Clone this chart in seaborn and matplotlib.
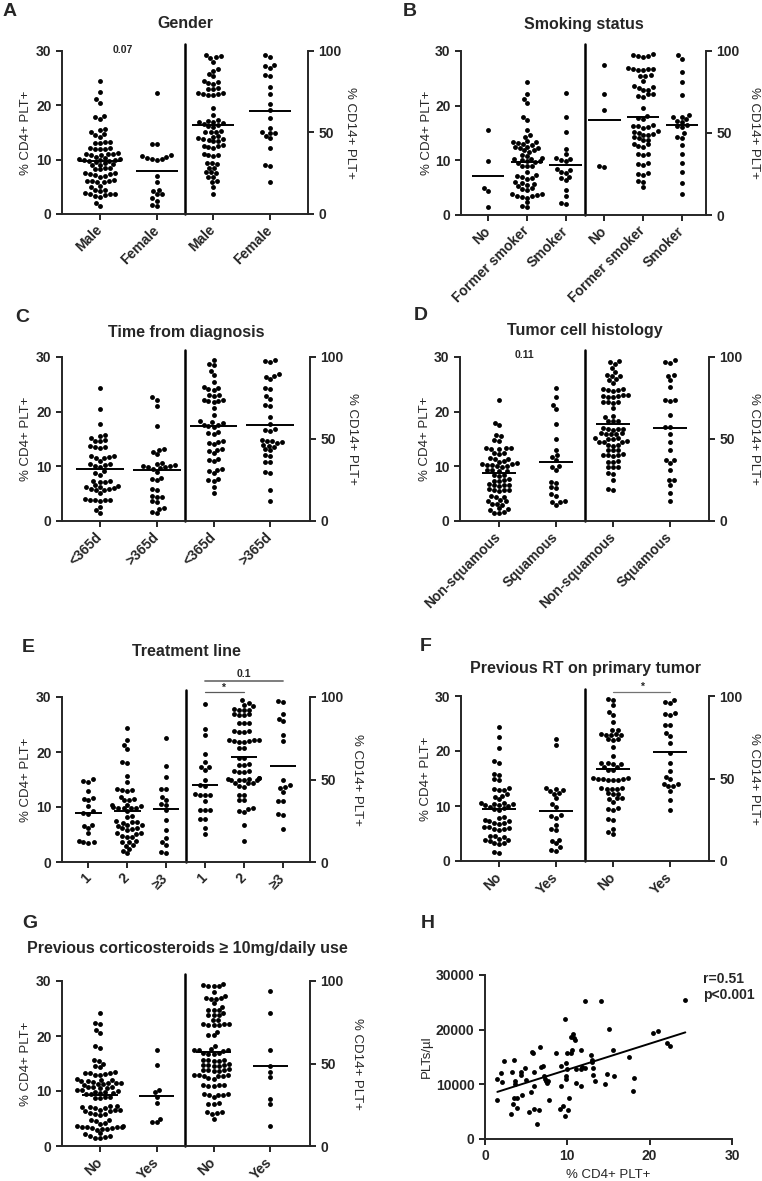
import numpy as np
import pandas as pd
import seaborn as sns
import matplotlib.pyplot as plt
import warnings

warnings.filterwarnings("ignore")

# ---------------- data ----------------
# A  Gender
gender_labels = ["Male", "Female"]
gender_cd4_male = [24.4, 22.4, 21.1, 20.5, 18.0, 17.8, 17.4, 15.6, 15.5, 15.0, 14.7, 14.5, 14.2, 13.2,
                   13.2, 13.1, 13.0, 12.2, 12.1, 12.0, 12.0, 11.9, 11.2, 11.1, 11.0, 11.0, 10.9, 10.8,
                   10.5, 10.3, 10.2, 10.1, 10.0, 10.0, 9.9, 9.8, 9.8, 9.6, 9.3, 9.2, 9.1, 9.0, 8.5, 8.4,
                   8.3, 8.2, 7.5, 7.5, 7.4, 7.3, 7.2, 7.0, 6.9, 6.2, 6.1, 6.0, 6.0, 5.9, 5.8, 5.2, 5.0,
                   4.5, 4.4, 4.3, 3.8, 3.7, 3.7, 3.6, 3.5, 3.3, 3.2, 2.0, 1.5]
gender_cd4_female = [22.2, 12.9, 12.9, 10.8, 10.5, 10.3, 10.1, 10.0, 10.2, 10.6, 7.0, 5.9, 4.4, 4.3,
                     3.6, 3.6, 2.4, 2.9, 1.5, 1.6]
gender_cd14_male = [97.5, 96.8, 96.2, 95.5, 93.5, 88.8, 87.5, 86.0, 84.5, 81.5, 81.0, 80.5, 80.0, 77.0,
                    76.8, 76.5, 74.5, 74.0, 73.8, 73.5, 73.2, 73.0, 65.0, 60.5, 57.5, 57.0, 56.5, 56.2,
                    55.8, 55.5, 54.5, 54.0, 53.5, 50.8, 50.5, 50.2, 50.0, 48.0, 47.5, 46.5, 46.0, 45.8,
                    45.5, 45.0, 44.5, 42.5, 42.0, 41.5, 41.0, 40.5, 37.0, 36.5, 36.0, 35.5, 31.5, 31.0,
                    30.5, 28.5, 28.0, 26.0, 25.5, 25.0, 23.0, 22.5, 20.0, 19.5, 16.7, 12.2]
gender_cd14_female = [97.5, 96.3, 91.5, 90.5, 89.5, 85.5, 84.5, 78.0, 73.7, 67.5, 63.7, 58.7, 52.5,
                      50.0, 49.8, 49.5, 48.0, 46.5, 40.5, 30.3, 29.2, 19.8]

# B  Smoking status
smoke_labels = ["No", "Former smoker", "Smoker"]
smoke_cd4_no = [15.5, 9.8, 4.9, 4.3, 1.4]
smoke_cd4_former = [24.3, 22.1, 21.2, 20.5, 18.0, 17.4, 15.6, 14.7, 14.3, 13.5, 13.3, 13.3, 13.2, 13.0,
                    12.8, 12.5, 12.4, 12.3, 12.2, 11.9, 11.8, 11.6, 11.0, 10.8, 10.5, 10.3, 10.2, 10.0,
                    9.9, 9.9, 9.7, 9.5, 9.0, 9.0, 8.9, 7.8, 7.3, 7.1, 7.0, 6.8, 6.6, 6.1, 5.9, 5.7, 5.5,
                    5.3, 4.9, 4.8, 4.6, 3.9, 3.8, 3.7, 3.5, 3.4, 3.3, 3.2, 2.3, 1.7, 1.4]
smoke_cd4_smoker = [22.4, 18.0, 15.1, 12.1, 11.1, 10.5, 10.3, 10.0, 9.8, 8.5, 8.2, 7.9, 7.7, 7.0, 6.8,
                    6.4, 4.5, 3.5, 2.2, 2.0]
smoke_cd14_no = [91.3, 74.0, 63.9, 29.8, 29.4]
smoke_cd14_former = [98.2, 97.5, 97.0, 96.5, 96.8, 89.5, 89.0, 88.8, 88.5, 88.2, 89.2, 85.5, 85.0, 84.5,
                     82.0, 78.5, 78.0, 77.5, 76.5, 76.0, 74.0, 73.5, 72.5, 72.0, 65.0, 60.5, 59.0, 58.5,
                     55.0, 54.5, 54.0, 53.5, 53.0, 51.0, 50.5, 50.0, 49.5, 49.0, 48.5, 47.5, 47.0, 46.0,
                     45.5, 43.5, 43.0, 42.0, 41.5, 37.5, 37.0, 36.5, 31.5, 31.0, 30.5, 25.8, 25.0, 24.5,
                     20.5, 20.0, 16.8]
smoke_cd14_smoker = [97.4, 95.3, 87.2, 81.1, 73.0, 61.0, 60.0, 59.5, 58.5, 57.5, 57.0, 55.0, 54.5, 53.8,
                     49.7, 47.5, 47.0, 42.6, 37.5, 31.8, 26.4, 19.7, 12.6]

# C  Time from diagnosis
time_labels = ["<365d", ">365d"]
time_cd4_early = [24.3, 20.4, 17.8, 15.7, 15.5, 15.2, 14.8, 14.7, 14.6, 13.8, 13.6, 13.5, 13.4, 11.9,
                  11.8, 11.7, 11.6, 11.5, 11.0, 10.5, 10.4, 10.3, 10.0, 9.9, 9.1, 8.8, 8.5, 7.4, 7.3,
                  7.2, 7.1, 6.5, 6.4, 6.3, 6.2, 6.0, 5.9, 5.8, 5.7, 5.6, 5.1, 4.0, 3.9, 3.9, 3.8, 3.8,
                  3.7, 2.5, 2.0, 1.5]
time_cd4_late = [22.6, 22.2, 21.0, 17.3, 13.2, 13.0, 12.7, 12.2, 10.6, 10.4, 10.2, 10.1, 10.0, 9.9, 9.8,
                 9.7, 9.6, 9.0, 7.9, 7.7, 7.5, 5.8, 5.6, 4.6, 4.4, 4.3, 3.6, 3.4, 2.4, 2.2, 1.7, 1.4]
time_cd14_early = [98.0, 96.0, 95.0, 91.3, 88.8, 84.8, 81.5, 81.0, 80.5, 80.0, 77.0, 76.7, 76.2, 74.0,
                   73.6, 73.4, 73.0, 72.5, 69.2, 64.5, 60.8, 60.4, 60.0, 58.8, 58.4, 58.0, 57.6, 54.4,
                   53.5, 53.0, 48.6, 48.2, 47.8, 47.2, 43.6, 43.2, 42.8, 41.2, 37.5, 37.1, 36.5, 31.5,
                   31.0, 30.5, 29.0, 25.5, 25.0, 24.5, 20.9, 16.8]
time_cd14_late = [98.0, 97.5, 97.0, 89.5, 88.5, 88.0, 86.8, 81.0, 80.5, 76.0, 74.6, 70.8, 70.4, 63.5,
                  59.4, 55.8, 55.4, 55.0, 49.5, 49.0, 48.5, 48.0, 47.5, 46.5, 46.0, 45.0, 44.0, 43.0,
                  40.2, 39.8, 36.2, 35.8, 30.0, 29.0, 18.9, 12.4]

# D  Tumor cell histology
hist_labels = ["Non-squamous", "Squamous"]
hist_cd4_nonsq = [22.1, 18.0, 17.5, 15.7, 15.5, 14.9, 14.7, 13.4, 13.3, 13.3, 13.2, 13.1, 12.5, 12.4,
                  12.3, 11.5, 11.4, 11.3, 10.9, 10.8, 10.6, 10.5, 10.4, 10.3, 10.2, 10.1, 10.0, 9.9, 9.4,
                  9.3, 9.2, 9.1, 8.5, 8.4, 8.3, 7.6, 7.5, 7.4, 7.3, 6.7, 6.6, 6.6, 6.5, 6.4, 5.8, 5.7,
                  5.7, 5.6, 5.5, 4.5, 4.4, 4.3, 3.8, 3.7, 3.6, 3.1, 3.1, 3.0, 2.3, 2.2, 2.1, 1.6, 1.5,
                  1.4]
hist_cd4_sq = [24.3, 22.6, 21.2, 20.5, 17.8, 15.0, 13.0, 12.0, 11.7, 11.1, 10.0, 9.8, 9.3, 7.2, 7.0,
               6.2, 6.0, 4.9, 4.5, 3.7, 3.5, 3.4, 2.9]
hist_cd14_nonsq = [97.6, 97.0, 96.0, 93.5, 91.0, 88.8, 88.5, 88.2, 86.4, 86.0, 84.0, 80.5, 80.2, 80.0,
                   79.8, 79.5, 77.0, 76.7, 76.4, 76.0, 75.8, 75.5, 72.8, 72.6, 72.4, 72.2, 68.6, 63.8,
                   63.2, 61.2, 61.0, 60.8, 56.5, 56.3, 56.1, 55.9, 55.7, 53.6, 53.4, 53.2, 53.0, 52.8,
                   50.6, 50.4, 50.2, 50.0, 48.6, 48.4, 48.2, 48.0, 46.4, 46.2, 46.0, 43.4, 43.2, 43.0,
                   40.6, 40.4, 40.2, 40.0, 39.8, 36.3, 36.1, 35.9, 33.2, 33.0, 32.8, 29.2, 28.8, 25.0,
                   19.5, 19.1]
hist_cd14_sq = [98.0, 97.0, 96.6, 89.0, 88.6, 85.8, 81.9, 73.8, 73.6, 73.4, 64.5, 57.6, 57.2, 53.3,
                48.3, 43.2, 37.3, 36.9, 35.1, 31.0, 25.2, 24.8, 21.9, 16.8, 12.4]

# E  Treatment line
line_labels = ["1", "2", "\u22653"]
line_cd4_1 = [15.1, 14.8, 14.6, 12.9, 11.7, 11.5, 11.2, 10.1, 9.3, 8.9, 8.8, 6.8, 6.6, 6.1, 5.2, 3.9,
              3.6, 3.6, 3.5]
line_cd4_2 = [24.3, 22.2, 21.2, 20.5, 18.1, 18.0, 15.7, 14.6, 13.2, 13.1, 13.1, 13.0, 11.9, 11.4, 11.3,
              11.2, 10.4, 10.3, 10.2, 10.0, 9.9, 9.9, 9.8, 9.8, 9.2, 8.4, 8.2, 7.4, 7.3, 7.2, 7.1, 6.8,
              6.7, 6.6, 6.2, 6.1, 6.0, 5.9, 5.3, 5.2, 5.1, 4.7, 4.6, 4.5, 3.8, 3.7, 3.6, 3.1, 3.0, 2.4,
              2.0, 1.6]
line_cd4_3 = [22.5, 17.5, 15.5, 13.3, 13.2, 11.9, 11.3, 10.6, 10.4, 9.5, 7.6, 5.8, 4.3, 3.7, 3.1, 1.9,
              1.6]
line_cd14_1 = [96.0, 80.8, 77.1, 65.4, 60.9, 57.7, 57.3, 55.9, 49.8, 46.6, 46.2, 41.0, 40.8, 40.6, 40.4,
               37.0, 31.8, 31.6, 31.4, 26.3, 25.9, 20.4, 17.0]
line_cd14_2 = [98.0, 96.4, 95.3, 94.3, 92.6, 92.4, 92.2, 92.0, 89.6, 89.4, 89.2, 89.0, 84.4, 84.2, 84.0,
               79.4, 79.2, 79.0, 78.8, 74.2, 74.0, 73.8, 73.4, 73.2, 73.0, 72.8, 69.2, 68.8, 63.2, 62.8,
               59.2, 59.0, 58.8, 55.2, 55.0, 54.8, 54.6, 51.0, 50.8, 50.6, 50.4, 50.0, 49.8, 49.6, 49.4,
               48.0, 47.8, 47.6, 45.8, 45.6, 40.8, 40.6, 37.8, 37.6, 32.8, 32.4, 30.8, 30.4, 22.5, 12.8]
line_cd14_3 = [97.6, 97.2, 89.7, 86.8, 85.2, 77.1, 73.5, 49.8, 46.8, 45.7, 45.1, 42.7, 37.2, 36.8, 29.0,
               28.6, 20.0]

# F  Previous RT on primary tumor
rt_labels = ["No", "Yes"]
rt_cd4_no = [24.4, 22.5, 20.5, 18.1, 17.9, 15.9, 15.7, 14.9, 14.7, 13.3, 13.1, 13.0, 12.9, 12.2, 11.9,
             11.7, 11.2, 10.6, 10.5, 10.4, 10.3, 10.2, 10.1, 10.0, 9.8, 9.6, 9.4, 9.2, 8.0, 7.8, 7.5,
             7.3, 7.2, 7.0, 6.9, 6.8, 6.2, 6.1, 6.0, 5.9, 5.8, 5.7, 4.6, 4.5, 4.4, 4.0, 3.9, 3.8, 3.7,
             3.3, 3.2, 3.1, 1.6, 1.5]
rt_cd4_yes = [22.1, 21.1, 13.2, 13.1, 13.0, 12.8, 12.4, 12.2, 11.4, 10.4, 9.8, 8.3, 8.1, 7.9, 6.5, 5.8,
              5.6, 3.9, 3.7, 3.2, 2.5, 2.0, 1.9]
rt_cd14_no = [98.2, 97.6, 94.5, 90.5, 88.5, 84.4, 79.6, 79.2, 77.0, 76.8, 76.5, 76.3, 76.1, 74.0, 73.7,
              73.4, 69.2, 63.6, 59.4, 59.2, 59.0, 58.8, 57.2, 57.0, 55.2, 55.0, 50.2, 50.1, 50.0, 49.9,
              49.8, 49.2, 49.0, 48.8, 44.2, 44.0, 43.9, 43.8, 43.6, 41.0, 40.9, 40.8, 38.0, 37.9, 37.8,
              35.8, 31.9, 31.7, 31.2, 25.7, 25.0, 19.6, 17.6, 16.6]
rt_cd14_yes = [97.6, 96.2, 95.8, 89.8, 89.2, 88.5, 82.6, 82.2, 77.3, 75.7, 71.3, 65.2, 59.1, 54.7, 51.0,
               49.4, 46.8, 46.4, 45.4, 45.2, 42.5, 36.8, 31.2]

# G  Previous corticosteroids
cort_labels = ["No", "Yes"]
cort_cd4_no = [24.2, 22.4, 22.2, 21.1, 20.5, 18.1, 17.9, 15.7, 15.5, 15.0, 14.5, 14.3, 13.4, 13.3, 13.2,
               13.2, 13.1, 13.0, 12.9, 12.1, 12.0, 12.0, 11.9, 11.8, 11.6, 11.5, 11.4, 11.4, 11.3, 11.2,
               11.1, 10.8, 10.7, 10.7, 10.6, 10.5, 10.2, 10.1, 10.0, 9.9, 9.8, 9.7, 9.6, 9.5, 9.4, 9.0,
               8.9, 8.8, 8.7, 7.3, 7.2, 7.1, 7.1, 7.0, 6.9, 6.6, 6.5, 6.5, 6.4, 6.3, 6.0, 5.9, 5.8,
               5.7, 4.8, 4.7, 4.6, 4.2, 4.0, 3.7, 3.6, 3.5, 3.5, 3.4, 3.4, 3.3, 3.2, 3.1, 3.1, 3.0,
               2.3, 2.1, 1.9, 1.8, 1.7, 1.5, 1.4]
cort_cd4_yes = [17.4, 14.7, 10.1, 9.8, 9.0, 7.8, 5.0, 4.4, 4.3]
cort_cd14_no = [98.2, 97.2, 97.0, 96.8, 97.4, 93.5, 91.1, 89.7, 89.5, 89.3, 88.9, 86.4, 84.4, 82.6, 82.4,
                82.2, 80.4, 79.6, 79.4, 79.2, 76.5, 76.1, 74.1, 74.0, 73.8, 73.6, 73.4, 73.2, 69.2, 67.4,
                67.0, 60.7, 58.5, 58.3, 58.1, 57.9, 57.7, 56.4, 56.2, 56.0, 55.8, 52.4, 52.2, 52.0, 51.8,
                51.6, 49.5, 49.3, 49.1, 48.9, 48.7, 48.5, 46.5, 46.3, 46.1, 45.9, 45.7, 45.5, 43.3, 43.1,
                42.9, 42.7, 42.5, 42.3, 41.0, 40.8, 37.2, 37.0, 36.8, 36.6, 36.4, 31.6, 31.4, 31.2, 31.0,
                30.8, 29.8, 25.9, 25.7, 25.5, 20.8, 20.4, 19.8, 19.4, 16.6]
cort_cd14_yes = [93.9, 80.4, 58.1, 48.6, 44.9, 41.9, 28.7, 25.7, 12.1]

# H  correlation CD4+ PLT+ vs platelets
corr_cd4 = [1.50, 1.50, 1.90, 2.06, 2.31, 3.28, 3.52, 3.60, 3.60, 3.12, 3.40, 3.52, 3.93, 3.89, 4.33,
            4.41, 4.49, 4.90, 5.02, 5.34, 5.55, 5.75, 5.83, 5.95, 5.95, 5.95, 6.28, 6.52, 6.64, 6.76,
            7.04, 7.17, 7.25, 7.37, 7.57, 7.65, 7.77, 8.66, 9.07, 9.27, 9.27, 9.47, 9.68, 9.68, 9.80,
            9.80, 9.88, 10.0, 10.0, 10.08, 10.16, 10.40, 10.40, 10.61, 10.69, 10.81, 10.89, 11.01,
            11.09, 11.62, 11.82, 11.62, 12.19, 12.11, 11.70, 13.0, 13.0, 13.16, 13.16, 13.32, 12.91,
            14.13, 14.53, 14.82, 15.06, 15.55, 15.67, 17.45, 18.02, 18.10, 20.40, 21.01, 22.15, 22.43,
            24.33]
corr_plt = [11016, 7060, 12050, 10350, 14180, 12230, 14360, 10530, 10100, 4500, 6450, 7490, 7490, 5660,
            12170, 11690, 8100, 12960, 10830, 4870, 8520, 16000, 15700, 12170, 9620, 5540, 2800, 5360,
            16800, 13090, 13270, 11560, 11020, 10650, 10230, 10530, 7180, 15820, 5540, 9620, 13270, 5960,
            21910, 4260, 13880, 10960, 11440, 15820, 12780, 5230, 7490, 15820, 18750, 16310, 19230, 18440,
            18140, 10230, 12780, 12780, 13090, 9620, 25320, 12960, 16310, 14490, 14000, 12960, 11620,
            10590, 15400, 25320, 10040, 11870, 20150, 16310, 11440, 14970, 8760, 11140, 19480, 19840,
            17530, 17100, 25440]

# ---------------- layout ----------------
sns.set_style("ticks")
plt.rcParams['font.family'] = ['Liberation Sans', 'DejaVu Sans']
plt.rcParams['font.weight'] = 'bold'
plt.rcParams['axes.linewidth'] = 1.4

W, H = 762, 1181
DOT = 3.5
fig = plt.figure(figsize=(W / 100, H / 100), dpi=100)


def box(l, t, r, b):
    return [l / W, 1 - b / H, (r - l) / W, (b - t) / H]


def long_df(groups, offset):
    return pd.DataFrame({
        'pos': np.repeat(np.arange(len(groups)) + offset, [len(g) for g in groups]).astype(float),
        'val': np.concatenate([np.asarray(g, float) for g in groups]),
    })


def style_ticks(ax):
    ax.tick_params(direction='out', length=4, width=1.2, labelsize=10, color='k')


def dot_panel(rect, labels, cd4_groups, cd14_groups, xlim, half, lx, rx):
    n = len(labels)
    ax = fig.add_axes(rect)
    ax2 = ax.twinx()
    left = long_df(cd4_groups, 0)
    right = long_df(cd14_groups, n)
    sns.swarmplot(data=left, x='pos', y='val', native_scale=True, orient='v',
                  color='k', size=DOT, ax=ax)
    sns.swarmplot(data=right, x='pos', y='val', native_scale=True, orient='v',
                  color='k', size=DOT, ax=ax2)
    # mean lines
    for a, df in ((ax, left), (ax2, right)):
        means = df.groupby('pos')['val'].mean()
        a.hlines(means.values, means.index - half, means.index + half, color='k', lw=1.4, zorder=5)
    ax.set_ylim(0, 30)
    ax.set_yticks([0, 10, 20, 30])
    ax2.set_ylim(0, 100)
    ax2.set_yticks([0, 50, 100])
    ax.set_xticks(np.arange(2 * n))
    ax.set_xticklabels(labels + labels, rotation=45, ha='right', va='center',
                       rotation_mode='anchor')
    ax.set_xlim(*xlim)
    ax.set_xlabel('')
    ax2.set_xlabel('')
    for s in ('top', 'right'):
        ax.spines[s].set_visible(False)
    for s in ('top', 'left', 'bottom'):
        ax2.spines[s].set_visible(False)
    style_ticks(ax)
    style_ticks(ax2)
    ax.tick_params(axis='x', pad=6)
    ax.axvline(n - 0.5, 0, 1.04, color='k', lw=1.8, clip_on=False)
    ax.set_ylabel('% CD4+ PLT+', fontweight='normal', fontsize=9.5, va='center', ha='center')
    ax.yaxis.set_label_coords(lx, 0.5)
    ax2.set_ylabel('% CD14+ PLT+', fontweight='normal', fontsize=9.5, rotation=270,
                   va='center', ha='center')
    ax2.yaxis.set_label_coords(rx, 0.5)
    return ax, ax2


def title(x, y, s):
    fig.text(x / W, 1 - y / H, s, ha='center', va='center', fontsize=11.5, fontweight='bold')


def letter(x, y, s):
    fig.text(x / W, 1 - y / H, s, ha='left', va='center', fontsize=14, fontweight='bold')


# A
axA, axA2 = dot_panel(box(62, 51, 308, 214), gender_labels,
                      [gender_cd4_male, gender_cd4_female],
                      [gender_cd14_male, gender_cd14_female],
                      (-0.67, 3.67), 0.37, -0.145, 1.17)
axA.text(0.4, 30.2, '0.07', ha='center', va='center', fontsize=7.5)
title(185, 24, 'Gender')
letter(3, 12, 'A')

# B
axB, axB2 = dot_panel(box(461, 51, 706, 215), smoke_labels,
                      [smoke_cd4_no, smoke_cd4_former, smoke_cd4_smoker],
                      [smoke_cd14_no, smoke_cd14_former, smoke_cd14_smoker],
                      (-0.70, 5.62), 0.42, -0.14, 1.196)
title(584, 24, 'Smoking status')
letter(403, 12, 'B')

# C
axC, axC2 = dot_panel(box(62, 357, 310, 521), time_labels,
                      [time_cd4_early, time_cd4_late],
                      [time_cd14_early, time_cd14_late],
                      (-0.67, 3.70), 0.42, -0.145, 1.17)
title(186, 332, 'Time from diagnosis')
letter(15, 317, 'C')

# D
axD, axD2 = dot_panel(box(460, 357, 709, 521), hist_labels,
                      [hist_cd4_nonsq, hist_cd4_sq],
                      [hist_cd14_nonsq, hist_cd14_sq],
                      (-0.68, 3.68), 0.3, -0.14, 1.18)
axD.text(0.44, 30.3, '0.11', ha='center', va='center', fontsize=7.5)
title(585, 330, 'Tumor cell histology')
letter(414, 316, 'D')

# E
axE, axE2 = dot_panel(box(62, 697, 310, 862), line_labels,
                      [line_cd4_1, line_cd4_2, line_cd4_3],
                      [line_cd14_1, line_cd14_2, line_cd14_3],
                      (-0.68, 5.70), 0.34, -0.145, 1.19)
axE2.plot([3, 4], [103, 103], color='0.35', lw=0.9, clip_on=False)
axE2.text(3.45, 105.5, '*', ha='center', va='center', fontsize=7.5)
axE2.plot([3, 5], [109.7, 109.7], color='0.45', lw=1.3, clip_on=False)
axE2.text(4.0, 114, '0.1', ha='center', va='center', fontsize=7.5)
title(186, 652, 'Treatment line')
letter(22, 648, 'E')

# F
axF, axF2 = dot_panel(box(461, 696, 709, 861), rt_labels,
                      [rt_cd4_no, rt_cd4_yes],
                      [rt_cd14_no, rt_cd14_yes],
                      (-0.67, 3.68), 0.3, -0.14, 1.18)
axF2.plot([2, 3], [102.6, 102.6], color='0.45', lw=0.9, clip_on=False)
axF2.text(2.5, 105.5, '*', ha='center', va='center', fontsize=7.5)
title(585, 668, 'Previous RT on primary tumor')
letter(420, 647, 'F')

# G
axG, axG2 = dot_panel(box(62, 981, 310, 1146), cort_labels,
                      [cort_cd4_no, cort_cd4_yes],
                      [cort_cd14_no, cort_cd14_yes],
                      (-0.67, 3.70), 0.31, -0.145, 1.19)
title(187, 948, 'Previous corticosteroids \u2265 10mg/daily use')
letter(22, 923, 'G')

# H
axH = fig.add_axes(box(485, 975, 732, 1139))
sns.regplot(x=np.array(corr_cd4), y=np.array(corr_plt), ci=None, color='k', ax=axH,
            scatter_kws={'s': DOT ** 2, 'linewidths': 0, 'alpha': 1},
            line_kws={'lw': 1.4})
axH.set_xlim(0, 30)
axH.set_ylim(0, 30000)
axH.set_xticks([0, 10, 20, 30])
axH.set_yticks([0, 10000, 20000, 30000])
for s in ('top', 'right'):
    axH.spines[s].set_visible(False)
style_ticks(axH)
axH.set_xlabel('% CD4+ PLT+', fontweight='normal', fontsize=9.5)
axH.set_ylabel('PLTs/\u00b5l', fontweight='normal', fontsize=9.5, va='center', ha='center')
axH.yaxis.set_label_coords(-0.235, 0.5)
fig.text(703 / W, 1 - 972 / H, 'r=0.51\np<0.001', ha='left', va='top', fontsize=10,
         fontweight='bold', linespacing=1.15)
letter(421, 924, 'H')

fig.savefig('out.png', dpi=100)
